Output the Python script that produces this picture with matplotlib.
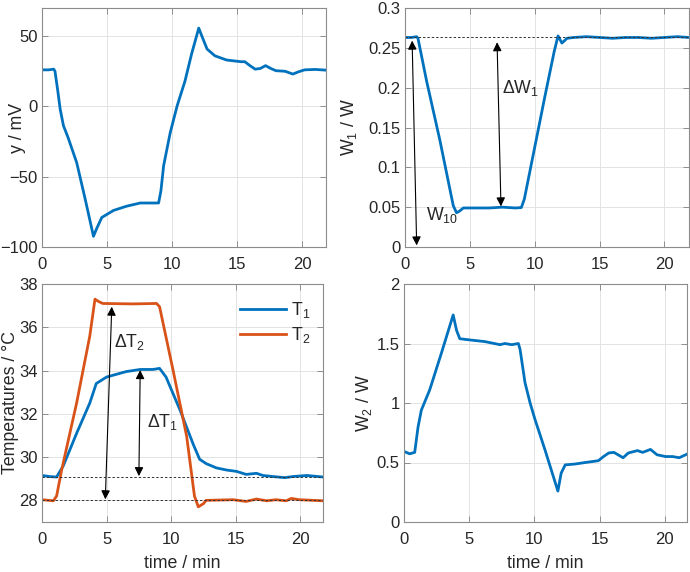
import matplotlib
matplotlib.use("Agg")
import matplotlib.pyplot as plt

plt.rcParams['font.family'] = ['Liberation Sans', 'DejaVu Sans']
plt.rcParams['mathtext.fontset'] = 'custom'
plt.rcParams['mathtext.rm'] = 'Liberation Sans'
plt.rcParams['mathtext.it'] = 'Liberation Sans'

# ---------------- data ----------------
t_y = [0, 0.5, 0.9, 1.0, 1.2, 1.4, 1.65, 2.0, 2.67, 3.3, 3.96, 4.2, 4.6, 5.5, 6.5, 7.56,
       8.97, 9.15, 9.36, 9.87, 10.4, 11.0, 11.5, 12.06, 12.3, 12.7, 13.3, 14.2, 15.3, 15.6,
       16.0, 16.4, 16.8, 17.2, 17.6, 18.0, 18.7, 19.3, 19.7, 20.2, 21.0, 21.85]
y_mV = [26, 26, 26.5, 25, 12, -2, -13.7, -22, -40, -65, -92.4, -87, -79, -74, -71, -68.7,
        -68.7, -60, -42, -18.5, 0.5, 18, 37, 55.7, 50, 40.8, 36, 33, 31.8, 31.8,
        29, 26.5, 27, 29, 27, 25.4, 25, 23, 24.5, 26, 26.3, 25.8]

t_w1 = [0, 0.5, 0.9, 1.0, 1.67, 2.69, 3.72, 3.97, 4.2, 4.5, 5.5, 6.5, 7.5, 8.5, 8.97,
        9.2, 10.0, 10.8, 11.5, 11.8, 12.1, 12.5, 13.0, 14.0, 15.0, 16.0, 17.0, 18.0,
        19.0, 20.0, 21.0, 21.9]
w1_W = [0.263, 0.263, 0.264, 0.262, 0.208, 0.134, 0.052, 0.043, 0.045, 0.049, 0.049, 0.049,
        0.050, 0.049, 0.0495, 0.060, 0.125, 0.190, 0.245, 0.265, 0.256, 0.262, 0.263, 0.264,
        0.263, 0.262, 0.263, 0.263, 0.262, 0.263, 0.264, 0.263]

t_T1 = [0, 0.6, 1.13, 1.65, 2.68, 3.7, 4.2, 5.0, 6.5, 7.6, 8.6, 9.1, 9.6, 10.7, 11.7,
        12.2, 12.7, 13.5, 14.3, 15.05, 15.8, 16.6, 17.1, 17.9, 18.8, 19.4, 20.5, 21.75]
T1 = [29.15, 29.1, 29.08, 29.6, 31.1, 32.5, 33.4, 33.7, 33.95, 34.05, 34.05, 34.1, 33.7,
      32.15, 30.6, 29.9, 29.7, 29.5, 29.4, 29.34, 29.2, 29.25, 29.15, 29.1, 29.05, 29.1,
      29.15, 29.08]

t_T2 = [0, 0.88, 1.13, 1.52, 2.68, 3.7, 4.1, 4.35, 4.7, 7.06, 8.87, 9.1, 10.15, 11.2,
        11.8, 12.1, 12.5, 12.7, 14.8, 15.8, 16.6, 17.4, 18.1, 18.9, 19.3, 19.9, 21.75]
T2 = [28.03, 27.98, 28.2, 29.4, 32.5, 35.6, 37.3, 37.2, 37.1, 37.08, 37.1, 36.95, 34.0,
      30.95, 28.2, 27.7, 27.85, 28.0, 28.03, 27.95, 28.06, 27.98, 28.03, 27.98, 28.09,
      28.03, 27.98]

t_w2 = [0, 0.44, 0.82, 1.08, 1.33, 1.97, 2.87, 3.77, 4.03, 4.28, 5.05, 6.2, 7.36, 7.74,
        8.26, 8.77, 8.9, 9.28, 9.67, 10.05, 10.8, 11.8, 12.05, 12.36, 13.1, 13.9, 14.9,
        15.3, 15.7, 16.1, 16.8, 17.2, 17.9, 18.3, 18.9, 19.4, 20.05, 20.6, 21.1, 21.7]
w2_W = [0.593, 0.573, 0.585, 0.80, 0.94, 1.11, 1.42, 1.74, 1.61, 1.54, 1.53, 1.516, 1.49,
        1.50, 1.49, 1.50, 1.45, 1.17, 1.0, 0.86, 0.61, 0.26, 0.41, 0.48, 0.487, 0.50, 0.515,
        0.55, 0.58, 0.585, 0.54, 0.58, 0.60, 0.585, 0.61, 0.565, 0.55, 0.55, 0.54, 0.57]

W10 = 0.263
T1_0 = 29.1
T2_0 = 28.0

blue = '#0072BD'
orange = '#D95319'
TXT = '#262626'
FS_TICK = 12
FS_LAB = 12.8

fig = plt.figure(figsize=(6.9, 5.72), dpi=100)
W, H = 690.0, 572.0


def mkax(l, t, r, b):
    return fig.add_axes([l / W, 1 - b / H, (r - l) / W, (b - t) / H])


ax1 = mkax(42, 8, 326, 247)
ax2 = mkax(405, 8, 689, 247)
ax3 = mkax(42, 284, 323, 522)
ax4 = mkax(404, 284, 687, 522)

for ax in (ax1, ax2, ax3, ax4):
    ax.grid(True, color='#e3e3e3', lw=0.7)
    ax.set_axisbelow(True)
    ax.tick_params(direction='in', length=4, width=0.6, colors='#808080',
                   labelcolor=TXT, labelsize=FS_TICK, top=True, right=True)
    ax.tick_params(axis='x', pad=7)
    ax.tick_params(axis='y', pad=3)
    for s in ax.spines.values():
        s.set_color('#8c8c8c')
        s.set_linewidth(0.8)
    ax.set_xticks([0, 5, 10, 15, 20])

arrow_kw = dict(arrowstyle='<|-|>', color='black', lw=0.8, mutation_scale=13,
                shrinkA=0, shrinkB=0)

# top-left
ax1.plot(t_y, y_mV, color=blue, lw=2)
ax1.set_xlim(0, 21.85)
ax1.set_ylim(-100, 70)
ax1.set_yticks([-100, -50, 0, 50])
ax1.set_ylabel('y / mV', fontsize=FS_LAB, color=TXT)
ax1.yaxis.set_label_coords((26 - 42) / 284, 0.5)

# top-right
ax2.plot(t_w1, w1_W, color=blue, lw=2)
ax2.axhline(W10, color='#333333', lw=0.7, ls=(0, (2.5, 2)))
ax2.set_xlim(0, 21.9)
ax2.set_ylim(0, 0.3)
ax2.set_yticks([0, 0.05, 0.1, 0.15, 0.2, 0.25, 0.3])
ax2.set_yticklabels(['0', '0.05', '0.1', '0.15', '0.2', '0.25', '0.3'])
ax2.set_ylabel('W$_1$ / W', fontsize=FS_LAB, color=TXT)
ax2.yaxis.set_label_coords((359 - 405) / 284, 0.5)
ax2.annotate('', xy=(0.55, 0.259), xytext=(0.9, 0.002), arrowprops=arrow_kw)
ax2.annotate('', xy=(7.1, 0.257), xytext=(7.4, 0.051), arrowprops=arrow_kw)
ax2.text(7.45, 0.2, 'ΔW$_1$', fontsize=FS_LAB, color=TXT, va='center', ha='left')
ax2.text(1.6, 0.04, 'W$_{10}$', fontsize=FS_LAB, color=TXT, va='center', ha='left')

# bottom-left
ax3.plot(t_T1, T1, color=blue, lw=2, label='T$_1$')
ax3.plot(t_T2, T2, color=orange, lw=2, label='T$_2$')
ax3.axhline(T1_0, color='#333333', lw=0.7, ls=(0, (2.5, 2)))
ax3.axhline(T2_0, color='#333333', lw=0.7, ls=(0, (2.5, 2)))
ax3.set_xlim(0, 21.75)
ax3.set_ylim(27, 38)
ax3.set_yticks([28, 30, 32, 34, 36, 38])
ax3.set_ylabel('Temperatures / °C', fontsize=FS_LAB, color=TXT)
ax3.yaxis.set_label_coords((19 - 42) / 281, 0.5)
ax3.set_xlabel('time / min', fontsize=FS_LAB, color=TXT)
ax3.xaxis.set_label_coords(0.5, (522 - 555) / 238)
ax3.annotate('', xy=(5.4, 36.95), xytext=(4.9, 28.05), arrowprops=arrow_kw)
ax3.annotate('', xy=(7.6, 34.02), xytext=(7.5, 29.12), arrowprops=arrow_kw)
ax3.text(5.6, 35.3, 'ΔT$_2$', fontsize=FS_LAB, color=TXT, va='center', ha='left')
ax3.text(8.1, 31.6, 'ΔT$_1$', fontsize=FS_LAB, color=TXT, va='center', ha='left')
leg = ax3.legend(loc='upper right', frameon=False, fontsize=FS_LAB,
                 handlelength=2.6, handletextpad=0.3, labelspacing=0.3,
                 bbox_to_anchor=(1.0, 0.985), borderaxespad=0.3)
for txt in leg.get_texts():
    txt.set_color(TXT)

# bottom-right
ax4.plot(t_w2, w2_W, color=blue, lw=2)
ax4.set_xlim(0, 21.7)
ax4.set_ylim(0, 2)
ax4.set_yticks([0, 0.5, 1, 1.5, 2])
ax4.set_yticklabels(['0', '0.5', '1', '1.5', '2'])
ax4.set_ylabel('W$_2$ / W', fontsize=FS_LAB, color=TXT)
ax4.yaxis.set_label_coords((374 - 404) / 283, 0.5)
ax4.set_xlabel('time / min', fontsize=FS_LAB, color=TXT)
ax4.xaxis.set_label_coords(0.5, (522 - 555) / 238)

fig.savefig('out.png', dpi=100)
